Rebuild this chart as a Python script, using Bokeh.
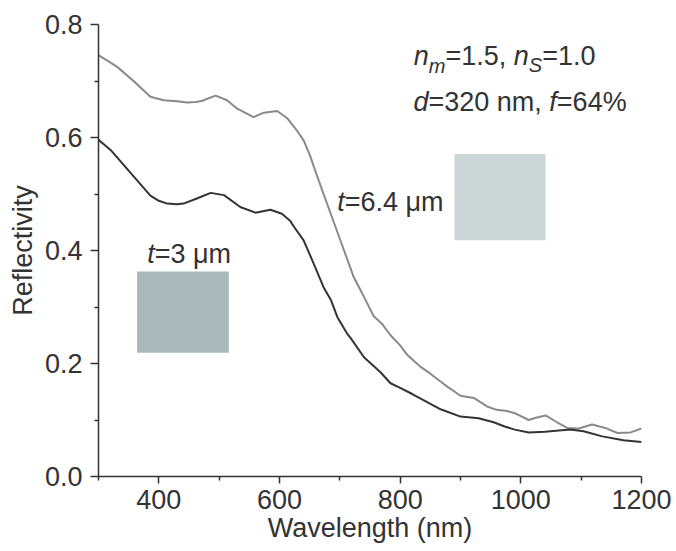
from bokeh.plotting import figure
from bokeh.models import FixedTicker, PrintfTickFormatter, Label
from bokeh.embed import file_html
from bokeh.resources import INLINE

# ---- data ----
wl_64 = [300, 331, 359, 386, 408, 430, 447, 462, 472, 494, 513, 530, 557, 574, 596, 613,
         629, 640, 651, 657, 673, 690, 707, 723, 740, 756, 770, 784, 800, 812, 834, 850,
         867, 878, 900, 922, 944, 960, 977, 990, 1013, 1025, 1041, 1060, 1077, 1096, 1118,
         1140, 1160, 1182, 1200]
refl_64 = [0.746, 0.725, 0.699, 0.672, 0.666, 0.664, 0.662, 0.663, 0.665, 0.674, 0.666, 0.651,
           0.636, 0.644, 0.647, 0.634, 0.612, 0.595, 0.567, 0.548, 0.500, 0.450, 0.400, 0.353,
           0.318, 0.284, 0.270, 0.250, 0.232, 0.215, 0.194, 0.182, 0.168, 0.159, 0.143, 0.139,
           0.124, 0.118, 0.116, 0.112, 0.100, 0.104, 0.108, 0.096, 0.086, 0.085, 0.092, 0.086,
           0.077, 0.078, 0.085]

wl_3 = [300, 320, 342, 364, 386, 400, 414, 430, 441, 463, 486, 508, 535, 560, 585, 604, 618,
        624, 640, 657, 673, 685, 696, 712, 718, 740, 767, 784, 800, 820, 834, 867, 900, 930,
        955, 972, 990, 1013, 1040, 1082, 1104, 1135, 1170, 1200]
refl_3 = [0.596, 0.578, 0.551, 0.524, 0.497, 0.488, 0.483, 0.482, 0.483, 0.492, 0.502, 0.498,
          0.477, 0.467, 0.472, 0.465, 0.452, 0.442, 0.418, 0.376, 0.335, 0.313, 0.282, 0.253,
          0.245, 0.211, 0.185, 0.165, 0.157, 0.146, 0.138, 0.119, 0.106, 0.103, 0.096, 0.089,
          0.083, 0.078, 0.079, 0.083, 0.080, 0.071, 0.064, 0.061]

x_major = [400, 600, 800, 1000, 1200]
x_minor = [300, 500, 700, 900, 1100]
y_major = [0.0, 0.2, 0.4, 0.6, 0.8]
y_minor = [0.1, 0.3, 0.5, 0.7]

FONT = "Liberation Sans"
TXT = "#333333"
FS = 27

p = figure(width=676, height=551, x_range=(300, 1200), y_range=(0, 0.8),
           output_backend="svg", toolbar_location=None,
           x_axis_label="Wavelength (nm)", y_axis_label="Reflectivity",
           min_border_left=98, min_border_right=35, min_border_top=24, min_border_bottom=75)
p.grid.visible = False
p.outline_line_color = None
p.background_fill_color = "white"
p.border_fill_color = "white"

for ax in (p.xaxis[0], p.yaxis[0]):
    ax.axis_line_color = "#333333"
    ax.axis_line_width = 1.5
    ax.major_tick_line_color = "#333333"
    ax.minor_tick_line_color = "#333333"
    ax.major_tick_line_width = 1.5
    ax.minor_tick_line_width = 1.5
    ax.major_tick_in = 0
    ax.minor_tick_in = 0
    ax.minor_tick_out = 4
    ax.major_label_text_font = FONT
    ax.major_label_text_font_size = f"{FS}px"
    ax.major_label_text_color = TXT
    ax.axis_label_text_font = FONT
    ax.axis_label_text_font_size = f"{FS}px"
    ax.axis_label_text_font_style = "normal"
    ax.axis_label_text_color = TXT

p.xaxis[0].ticker = FixedTicker(ticks=x_major, minor_ticks=x_minor)
p.xaxis[0].formatter = PrintfTickFormatter(format="%d")
p.xaxis[0].major_tick_out = 7
p.xaxis[0].major_label_standoff = 6
p.xaxis[0].axis_label_standoff = 1
p.yaxis[0].ticker = FixedTicker(ticks=y_major, minor_ticks=y_minor)
p.yaxis[0].formatter = PrintfTickFormatter(format="%.1f")
p.yaxis[0].major_tick_out = 8
p.yaxis[0].major_label_standoff = 8
p.yaxis[0].axis_label_standoff = 4

# sample squares
p.quad(left=890, right=1041, bottom=0.418, top=0.571, fill_color="#cdd6d6", line_color=None)
p.quad(left=364, right=516, bottom=0.219, top=0.363, fill_color="#a9b8b8", line_color=None)

# curves
p.line(wl_64, refl_64, line_color="#8a8a8a", line_width=2)
p.line(wl_3, refl_3, line_color="#333333", line_width=2)

# advance widths (Arial / Liberation Sans, per 1000 em)
W = {'n': 556, 'm': 833, '=': 584, '1': 556, '.': 278, '5': 556, ',': 278, ' ': 278,
     'S': 667, '0': 556, 'd': 556, '3': 556, '2': 556, 'f': 278, '6': 556, '4': 556,
     '%': 889, 't': 278, 'μ': 576}


def rich(x, y, pieces):
    off = 0.0
    for txt, italic, size, dy in pieces:
        p.add_layout(Label(x=x, y=y, x_offset=off, y_offset=dy, text=txt,
                           text_font=FONT, text_font_size=f"{size}px",
                           text_font_style="italic" if italic else "normal",
                           text_color=TXT, text_baseline="alphabetic", text_align="left"))
        off += sum(W.get(c, 556) for c in txt) / 1000 * size


SUB = 20
rich(822.6, 0.7434, [("n", True, FS, 0), ("m", True, SUB, -10), ("=1.5, ", False, FS, 0),
                     ("n", True, FS, 0), ("S", True, SUB, -9), ("=1.0", False, FS, 0)])
rich(822.1, 0.6625, [("d", True, FS, 0), ("=320 nm, ", False, FS, 0),
                     ("f", True, FS, 0), ("=64%", False, FS, 0)])
rich(695.6, 0.485, [("t", True, FS, 0), ("=6.4 μm", False, FS, 0)])
rich(380.7, 0.393, [("t", True, FS, 0), ("=3 μm", False, FS, 0)])

open("out.html", "w").write(file_html(p, INLINE))
